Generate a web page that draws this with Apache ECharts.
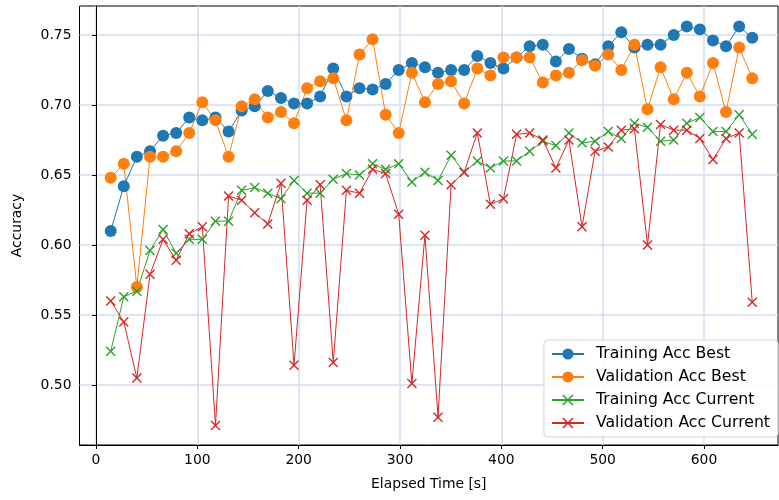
<!DOCTYPE html>
<html><head><meta charset="utf-8">
<script src="https://cdn.jsdelivr.net/npm/echarts@6/dist/echarts.min.js"></script>
<style>html,body{margin:0;padding:0;background:#fff}#c{width:779px;height:500px}</style>
</head><body><div id="c"></div>
<script>
const elapsedTime = [14.5,27.4,40.3,53.3,66.2,79.1,92.0,104.9,117.9,130.8,143.7,156.6,169.5,182.5,195.4,208.3,221.2,234.1,247.1,260.0,272.9,285.8,298.7,311.7,324.6,337.5,350.4,363.3,376.3,389.2,402.1,415.0,427.9,440.9,453.8,466.7,479.6,492.5,505.5,518.4,531.3,544.2,557.1,570.1,583.0,595.9,608.8,621.7,634.7,647.6];
const trainAccBest = [0.610,0.642,0.663,0.667,0.678,0.680,0.691,0.689,0.691,0.681,0.696,0.699,0.710,0.705,0.701,0.701,0.706,0.726,0.706,0.712,0.711,0.715,0.725,0.730,0.727,0.723,0.725,0.725,0.735,0.730,0.726,0.734,0.742,0.743,0.731,0.740,0.733,0.729,0.742,0.752,0.741,0.743,0.743,0.750,0.756,0.754,0.746,0.742,0.756,0.748];
const valAccBest = [0.648,0.658,0.570,0.663,0.663,0.667,0.680,0.702,0.689,0.663,0.699,0.704,0.691,0.695,0.687,0.712,0.717,0.719,0.689,0.736,0.747,0.693,0.680,0.723,0.702,0.715,0.717,0.701,0.726,0.721,0.734,0.734,0.734,0.716,0.721,0.723,0.732,0.728,0.736,0.725,0.743,0.697,0.727,0.704,0.723,0.706,0.730,0.695,0.741,0.719];
const trainAccCurrent = [0.524,0.563,0.567,0.596,0.611,0.594,0.604,0.604,0.617,0.617,0.639,0.641,0.637,0.633,0.646,0.637,0.637,0.647,0.651,0.650,0.658,0.654,0.658,0.645,0.652,0.646,0.664,0.652,0.660,0.655,0.660,0.660,0.667,0.674,0.671,0.680,0.673,0.674,0.681,0.676,0.687,0.684,0.674,0.675,0.687,0.691,0.681,0.681,0.693,0.679];
const valAccCurrent = [0.560,0.545,0.505,0.579,0.604,0.589,0.608,0.613,0.471,0.635,0.632,0.623,0.615,0.644,0.514,0.632,0.643,0.516,0.639,0.637,0.654,0.651,0.622,0.501,0.607,0.477,0.643,0.652,0.680,0.629,0.633,0.679,0.680,0.675,0.655,0.675,0.613,0.667,0.670,0.682,0.683,0.600,0.686,0.682,0.682,0.676,0.661,0.676,0.680,0.559];
const xTicks = [0,100,200,300,400,500,600];
const yTicks = [0.50,0.55,0.60,0.65,0.70,0.75];

const FONT = 'DejaVu Sans';
const xMark = 'path://M1,0 L5,4 L9,0 L10,1 L6,5 L10,9 L9,10 L5,6 L1,10 L0,9 L4,5 L0,1 Z';
const pts = arr => elapsedTime.map((t, i) => [t, arr[i]]);
function mkSeries(name, arr, color, symbol, size) {
  return {
    name, type: 'line', data: pts(arr), symbol, symbolSize: size,
    showSymbol: true,
    lineStyle: {color, width: 1},
    itemStyle: {color, borderWidth: 0},
    emphasis: {disabled: true},
    z: 3
  };
}
const chart = echarts.init(document.getElementById('c'), null, {renderer: 'canvas'});
const gridColor = '#d3dcee';
chart.setOption({
  animation: false,
  backgroundColor: '#fff',
  textStyle: {fontFamily: FONT},
  grid: {left: 79.5, right: 1, top: 6, bottom: 55, containLabel: false,
         show: true, borderColor: '#000', borderWidth: 1, backgroundColor: 'transparent'},
  xAxis: {
    type: 'value', min: -16.3, max: 673,
    name: 'Elapsed Time [s]', nameLocation: 'middle', nameGap: 32,
    nameTextStyle: {fontFamily: FONT, fontSize: 13.9, color: '#000'},
    axisLine: {show: true, onZero: false, lineStyle: {color: '#000', width: 1}},
    axisTick: {show: true, inside: false, length: 4, lineStyle: {color: '#000', width: 1}, customValues: xTicks},
    axisLabel: {customValues: xTicks, margin: 8, fontFamily: FONT, fontSize: 13.9, color: '#000', formatter: v => String(Math.round(v))},
    splitLine: {show: true, lineStyle: {color: gridColor, width: 1.5}}
  },
  yAxis: {
    type: 'value', min: 0.4571, max: 0.7707,
    name: 'Accuracy', nameLocation: 'middle', nameGap: 55, nameRotate: 90,
    nameTextStyle: {fontFamily: FONT, fontSize: 13.9, color: '#000'},
    axisLine: {show: true, lineStyle: {color: '#000', width: 1}},
    axisTick: {show: true, inside: false, length: 4, lineStyle: {color: '#000', width: 1}, customValues: yTicks},
    axisLabel: {customValues: yTicks, margin: 8, fontFamily: FONT, fontSize: 13.9, color: '#000', formatter: v => v.toFixed(2)},
    splitLine: {show: true, lineStyle: {color: gridColor, width: 1.5}}
  },
  legend: {
    orient: 'vertical', right: 1, bottom: 63,
    itemWidth: 32, itemHeight: 14, itemGap: 7,
    padding: [6, 8, 6, 7],
    backgroundColor: 'rgba(255,255,255,0.85)', borderColor: '#d4d4d4', borderWidth: 1, borderRadius: 4,
    textStyle: {fontFamily: FONT, fontSize: 15.7, color: '#000', padding: [0, 0, 0, 7]},
    data: ['Training Acc Best', 'Validation Acc Best', 'Training Acc Current', 'Validation Acc Current']
  },
  series: [
    mkSeries('Training Acc Best', trainAccBest, '#1f77b4', 'circle', 12),
    mkSeries('Validation Acc Best', valAccBest, '#ff7f0e', 'circle', 12),
    mkSeries('Training Acc Current', trainAccCurrent, '#2ca02c', xMark, 10),
    mkSeries('Validation Acc Current', valAccCurrent, '#d62728', xMark, 10)
  ]
});
</script></body></html>
